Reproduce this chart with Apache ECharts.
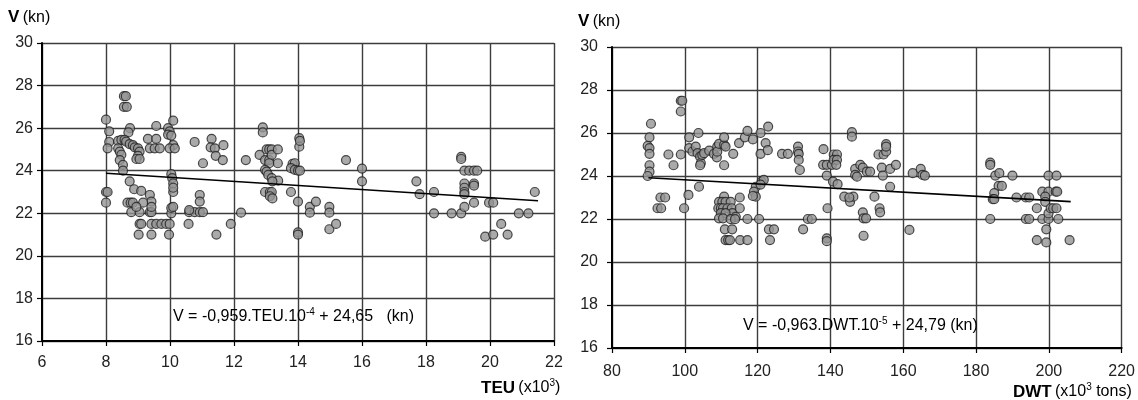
<!DOCTYPE html>
<html>
<head>
<meta charset="utf-8">
<script src="https://cdn.jsdelivr.net/npm/echarts@6/dist/echarts.min.js"></script>
<style>
html,body{margin:0;padding:0;background:#fff;}
#c{width:1138px;height:400px;}
</style>
</head>
<body>
<div id="c"></div>
<script>
// Left chart: TEU (x10^3) vs V (kn)
const teuPoints = [
[8.0,26.4],[8.1,25.85],[8.1,25.35],[8.05,25.05],[8.0,23.0],[8.05,23.0],[8.0,22.5],
[8.56,27.5],[8.62,27.5],[8.56,27.0],[8.65,27.0],[8.75,26.0],[8.7,25.8],
[8.38,25.4],[8.48,25.45],[8.58,25.45],[8.63,25.37],[8.74,25.25],[8.84,25.2],[8.9,25.1],[9.0,25.05],[9.05,24.9],[9.0,24.7],[8.95,24.55],[9.05,24.55],
[8.38,25.05],[8.43,24.9],[8.48,24.75],[8.43,24.5],[8.53,24.27],[8.53,24.0],
[8.74,23.5],[8.88,23.13],[9.1,23.05],[9.37,22.86],[9.42,22.55],
[8.67,22.5],[8.77,22.5],[8.84,22.5],[9.16,22.5],
[8.79,22.05],[9.05,22.05],[9.37,22.05],[9.42,22.05],[9.42,22.3],[8.95,22.3],
[9.05,21.5],[9.1,21.5],[9.42,21.5],[9.57,21.5],[9.73,21.5],[9.88,21.5],[9.99,21.5],
[9.02,21.0],[9.42,21.0],[9.97,21.0],
[9.57,26.1],[9.31,25.5],[9.57,25.5],[9.37,25.05],[9.52,25.05],[9.68,25.05],
[10.1,26.35],[9.94,26.0],[9.99,25.85],[9.94,25.7],[10.04,25.65],[10.1,25.2],[9.99,25.05],[10.15,25.05],
[10.04,23.84],[10.07,23.65],[10.1,23.4],[10.1,23.0],[10.1,23.2],
[10.04,22.0],[10.04,22.25],[10.1,22.3],
[10.77,25.35],[11.3,25.5],[11.27,25.1],[11.4,25.05],[11.43,24.7],[11.03,24.35],[11.67,25.2],[11.65,24.5],[12.37,24.5],
[10.93,22.86],[10.93,22.55],[10.6,22.05],[10.77,22.05],[10.93,22.05],[11.03,22.05],[10.6,22.15],[10.58,21.5],[11.45,21.0],[11.9,21.5],[12.22,22.03],
[12.9,26.04],[12.9,25.8],
[12.8,24.74],[13.02,25.0],[13.1,25.0],[13.18,25.0],[12.97,24.5],[13.1,24.5],[13.18,24.74],[13.37,25.0],[13.37,24.35],[13.1,24.35],
[12.97,24.04],[13.02,23.96],[13.07,23.8],[13.18,23.65],[13.38,23.53],[13.2,23.5],
[12.97,23.0],[13.12,23.0],[13.18,23.0],[13.12,22.8],[13.2,22.7],
[13.78,23.0],[13.83,24.32],[13.9,24.35],[13.78,24.12],[13.9,24.04],[14.0,24.0],[14.06,24.0],
[14.04,25.53],[14.04,25.13],[14.06,25.4],
[14.0,22.55],[14.0,21.1],[14.0,21.0],
[14.37,22.3],[14.37,22.03],[14.56,22.55],[14.98,22.3],[14.98,22.03],[14.98,21.25],[15.19,21.5],
[15.5,24.5],[16.0,24.1],[16.0,23.5],
[17.7,23.5],[17.8,22.9],[18.25,23.0],[18.25,22.0],[18.8,22.0],
[19.1,24.65],[19.1,24.55],[19.1,22.0],
[19.2,24.0],[19.35,24.0],[19.5,24.0],[19.6,24.0],
[19.2,23.4],[19.2,23.2],[19.2,23.0],[19.2,22.9],[19.5,23.4],[19.5,23.3],[19.5,22.5],[19.2,22.3],
[19.97,22.5],[20.1,22.5],[19.85,20.9],[20.1,21.0],[20.35,21.5],[20.55,21.0],[20.9,22.0],[21.2,22.0],[21.4,23.0]
];
const teuTrend = [[8.0,23.88],[21.5,22.59]];

// Right chart: DWT (x10^3 tons) vs V (kn)
const dwtPoints = [
[90.7,26.43],[90.3,25.8],[89.8,25.4],[90.3,25.3],[90.3,25.03],[90.3,24.5],[90.3,24.2],[89.8,24.0],
[95.5,25.0],[96.9,24.5],[98.9,27.5],[99.3,27.5],[98.9,27.0],[98.9,25.0],
[101.2,25.8],[103.75,26.0],
[101.2,25.3],[102.1,25.14],[103.0,25.37],[103.5,25.06],[104.2,24.9],[104.4,24.6],[104.8,24.98],[105.3,25.06],[104.2,24.5],
[103.9,23.5],
[106.7,25.18],[108.0,25.03],[108.8,24.87],[108.9,25.37],[108.9,25.13],[109.4,25.49],[110.8,25.45],[110.8,25.8],[111.2,25.37],[110.8,24.5],
[113.3,25.03],[114.9,25.53],[116.5,25.8],[117.2,26.1],[118.7,25.7],[120.8,26.0],[120.8,25.03],[122.2,25.53],[122.8,25.2],[122.9,26.3],
[126.7,25.03],[128.3,25.03],
[131.1,25.37],[131.1,25.14],[131.3,25.03],[131.3,24.75],[131.6,24.28],
[138.1,25.25],[138.0,24.52],[139.0,24.52],[140.4,24.52],[139.0,24.02],
[140.9,25.0],[141.8,25.0],[140.9,24.75],[141.8,24.75],[141.6,24.52],
[140.7,23.74],[141.97,23.62],
[145.9,26.04],[145.9,25.83],
[146.8,24.33],[146.8,24.05],[147.3,23.97],[148.2,24.52],[148.9,24.39],[150.0,24.2],[150.9,24.2],
[153.2,25.0],[154.6,25.0],[155.3,25.14],[155.3,25.48],[155.3,25.37],
[154.1,24.39],[154.4,24.02],[156.4,24.33],[158.0,24.52],[156.4,23.5],
[162.6,24.13],[164.8,24.33],[165.3,24.05],[165.95,24.02],
[119.5,23.5],[119.0,23.27],[119.5,23.04],[118.7,23.07],[121.1,23.74],[121.7,23.82],[120.8,23.6],
[93.3,23.0],[94.6,23.0],[92.5,22.5],[93.5,22.5],[99.8,22.5],[101.0,23.12],
[110.8,23.04],[109.4,22.8],[110.3,22.8],[111.2,22.8],[112.6,22.8],
[109.2,22.5],[109.9,22.5],[110.5,22.5],[111.7,22.5],[112.9,22.5],[113.1,22.27],[114.0,22.1],[109.9,22.27],[111.2,22.27],[109.4,22.03],[110.5,22.03],[112.6,21.99],[113.8,21.99],
[111.0,21.52],[113.0,21.52],[111.2,21.02],[111.9,21.02],[112.4,21.02],[115.2,21.02],[117.2,21.02],
[115.1,23.0],[115.1,22.5],[117.2,22.0],[120.4,22.0],
[123.1,21.52],[124.5,21.52],[123.4,21.02],
[132.5,21.52],[133.8,22.0],[134.9,22.0],
[139.2,22.5],[139.0,21.1],[139.0,20.97],
[143.8,23.04],[145.4,22.8],[146.3,23.04],[145.2,23.0],
[148.9,22.31],[149.1,22.03],[149.8,22.03],[149.1,21.22],[152.1,23.04],
[153.5,22.5],[153.65,22.31],[161.7,21.49],
[183.9,24.62],[183.9,24.52],[185.3,24.02],[186.4,24.13],[190.0,24.02],[186.2,23.54],[187.1,23.54],[185.0,23.2],[184.6,22.92],[185.0,22.92],[183.9,22.0],
[191.1,23.0],[193.7,23.0],[194.6,23.0],[193.7,22.0],[194.6,22.0],[196.7,22.5],[196.7,21.02],
[198.2,23.27],[199.9,23.27],[201.9,23.27],[202.3,23.27],[199.0,23.04],[199.0,22.8],[199.9,24.02],[202.1,24.02],
[198.2,22.0],[199.9,22.0],[202.6,22.0],[199.9,22.26],[200.5,22.5],[201.2,22.5],[202.1,22.5],[199.3,21.52],[199.3,20.91],[205.7,21.02]
];
const dwtTrend = [[90.0,23.92],[206.0,22.81]];

const FONT = "'Liberation Sans', Arial, sans-serif";
const chart = echarts.init(document.getElementById('c'), null, {renderer: 'canvas'});

function xAxisCfg(grid, min, max, interval, margin) {
  return {
    type: 'value', gridIndex: grid, min: min, max: max, interval: interval,
    axisLine: {show: true, onZero: false, lineStyle: {color: '#000', width: 2}},
    axisTick: {show: true, length: 5, lineStyle: {color: '#000', width: 1.2}},
    axisLabel: {color: '#222', fontSize: 16, fontFamily: FONT, margin: margin},
    splitLine: {show: true, lineStyle: {color: '#3c3c3c', width: 1.4}}
  };
}
function yAxisCfg(grid, margin) {
  return {
    type: 'value', gridIndex: grid, min: 16, max: 30, interval: 2,
    axisLine: {show: true, onZero: false, lineStyle: {color: '#000', width: 2}},
    axisTick: {show: true, length: 5, lineStyle: {color: '#000', width: 1.2}},
    axisLabel: {color: '#222', fontSize: 16, fontFamily: FONT, margin: margin},
    splitLine: {show: true, lineStyle: {color: '#3c3c3c', width: 1.4}}
  };
}
const scatterStyle = {color: '#959595', borderColor: '#222', borderWidth: 1.2};

const rich = {
  a: {fontSize: 16, fontFamily: FONT, color: '#222', lineHeight: 20},
  b: {fontSize: 17, fontFamily: FONT, fontWeight: 'bold', color: '#222', lineHeight: 20},
  s: {fontSize: 10, fontFamily: FONT, color: '#222', verticalAlign: 'top', lineHeight: 20}
};

chart.setOption({
  animation: false,
  grid: [
    {left: 42, top: 43, width: 512, height: 298},
    {left: 612, top: 47, width: 512, height: 301}
  ],
  xAxis: [xAxisCfg(0, 6, 22, 2, 14), xAxisCfg(1, 80, 220, 20, 16)],
  yAxis: [yAxisCfg(0, 9), yAxisCfg(1, 14)],
  series: [
    {type: 'scatter', xAxisIndex: 0, yAxisIndex: 0, data: teuPoints, symbolSize: 9, itemStyle: scatterStyle, z: 3},
    {type: 'line', xAxisIndex: 0, yAxisIndex: 0, data: teuTrend, symbol: 'none', lineStyle: {color: '#000', width: 1.6}, z: 4},
    {type: 'scatter', xAxisIndex: 1, yAxisIndex: 1, data: dwtPoints, symbolSize: 9, itemStyle: scatterStyle, z: 3},
    {type: 'line', xAxisIndex: 1, yAxisIndex: 1, data: dwtTrend, symbol: 'none', lineStyle: {color: '#000', width: 1.6}, z: 4}
  ],
  graphic: [
    {type: 'text', left: 8, top: 9, style: {text: '{b|V} {a|(kn)}', rich: rich}},
    {type: 'text', left: 578, top: 13, style: {text: '{b|V} {a|(kn)}', rich: rich}},
    {type: 'text', left: 481, top: 378, style: {text: '{b|TEU} {a|(x10}{s|3}{a|)}', rich: rich}},
    {type: 'text', left: 1013, top: 382, style: {text: '{b|DWT} {a|(x10}{s|3}{a| tons)}', rich: rich}},
    {type: 'text', left: 173, top: 307, z: 10, style: {text: '{a|V = -0,959.TEU.10}{s|-4}{a| + 24,65   (kn)}', rich: rich}},
    {type: 'text', left: 743, top: 316, z: 10, style: {text: '{a|V = -0,963.DWT.10}{s|-5}{a| + 24,79 (kn)}', rich: rich}}
  ]
});
</script>
</body>
</html>
